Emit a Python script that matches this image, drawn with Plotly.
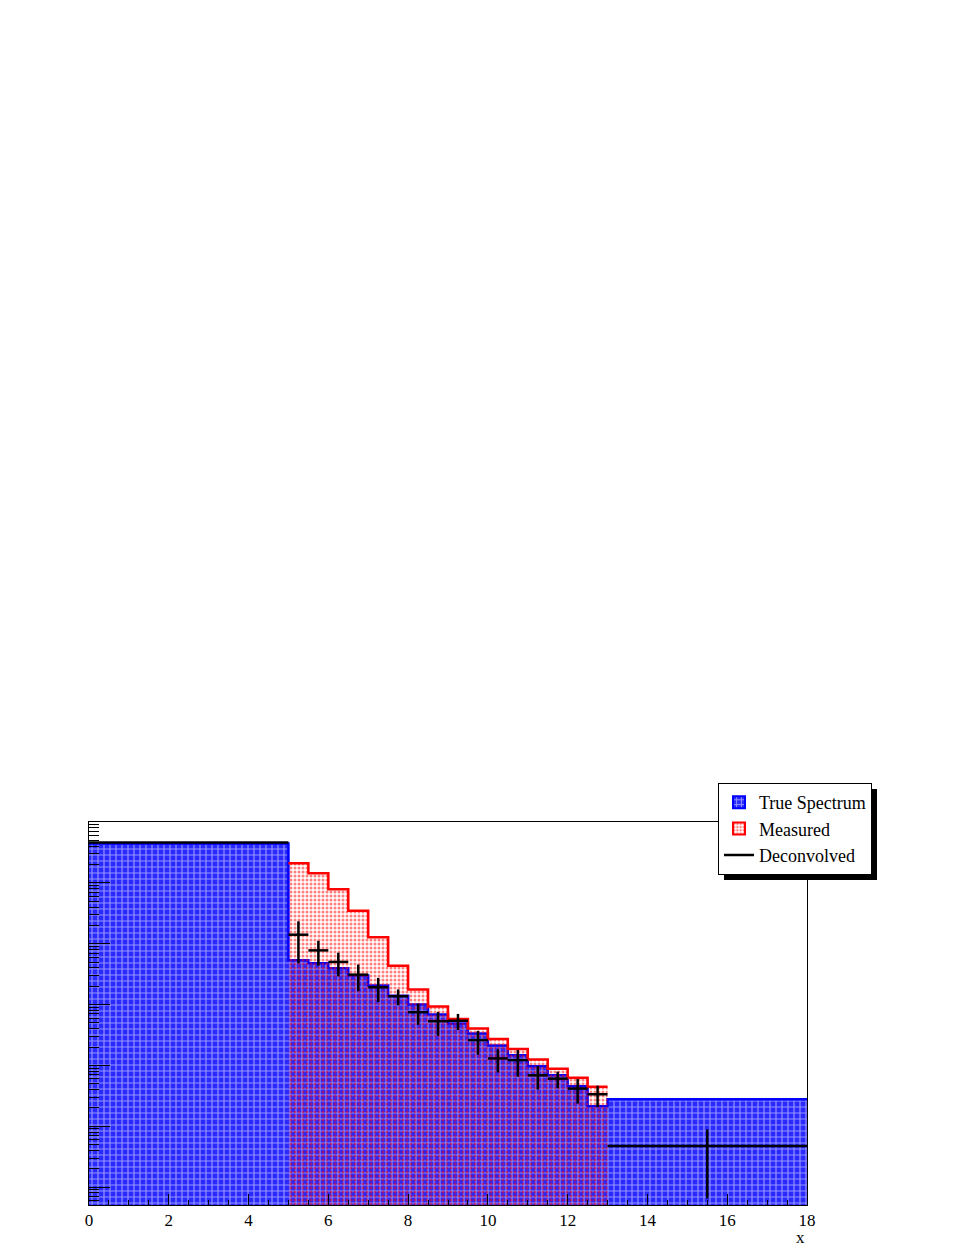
import plotly.graph_objects as go

# bin edges (variable width: one wide bin, 16 narrow bins, one wide bin)
edges = [0, 5, 5.5, 6, 6.5, 7, 7.5, 8, 8.5, 9, 9.5, 10, 10.5, 11, 11.5, 12, 12.5, 13, 18]

true_counts = [4.45e6, 53600, 47900, 39600, 29900, 20500, 14000, 10000, 6860,
               4890, 3350, 2130, 1460, 964, 686, 453, 213, 277]

meas_edges = [5, 5.5, 6, 6.5, 7, 7.5, 8, 8.5, 9, 9.5, 10, 10.5, 11, 11.5, 12, 12.5, 13]
meas_counts = [2.10e6, 1.44e6, 7.88e5, 3.48e5, 1.27e5, 4.35e4, 1.76e4, 9270,
               5780, 4040, 2720, 1860, 1250, 877, 624, 445]

deconv_counts = [4.62e6, 1.405e5, 7.76e4, 5.01e4, 3.10e4, 1.92e4, 1.37e4, 7480,
                 5320, 5410, 2600, 1300, 1220, 686, 605, 415, 335, 47.5]
deconv_err = [2e4, 9.3e4, 3.4e4, 2.1e4, 1.44e4, 8200, 4000, 2850,
              2250, 1600, 1100, 535, 570, 286, 185, 180, 128, 41]

centers = [(edges[i] + edges[i + 1]) / 2 for i in range(len(edges) - 1)]
half_w = [(edges[i + 1] - edges[i]) / 2 for i in range(len(edges) - 1)]

SERIF = "Liberation Serif"
BLUE_PAT = dict(shape="+", fgcolor="white", bgcolor="#2a2aff", size=6, solidity=0.35)
RED_PAT = dict(shape=".", fgcolor="#ff0000", bgcolor="rgba(0,0,0,0)", size=4, solidity=0.45)

fig = go.Figure()

# true spectrum, blue pattern fill
fig.add_trace(go.Scatter(
    x=edges, y=true_counts + [true_counts[-1]],
    mode="lines", line=dict(shape="hv", color="#0000ff", width=2.5),
    fill="tozeroy", fillcolor="rgba(0,0,0,0)", fillpattern=BLUE_PAT,
    showlegend=False,
))

# measured, red dots over whatever is below
fig.add_trace(go.Scatter(
    x=meas_edges, y=meas_counts + [meas_counts[-1]],
    mode="lines", line=dict(shape="hv", color="#ff0000", width=2.5),
    fill="tozeroy", fillcolor="rgba(0,0,0,0)", fillpattern=RED_PAT,
    showlegend=False,
))

# deconvolved, crosses
fig.add_trace(go.Scatter(
    x=centers, y=deconv_counts, mode="markers",
    marker=dict(size=1, color="black"),
    error_x=dict(type="data", array=half_w, color="black", thickness=2.5, width=0),
    error_y=dict(type="data", array=deconv_err, color="black", thickness=2.5, width=0),
    showlegend=False,
))

# legend entries
fig.add_trace(go.Bar(x=[None], y=[None], name="True Spectrum",
                     marker=dict(color="#2a2aff", pattern=BLUE_PAT,
                                 line=dict(color="#0000ff", width=2))))
fig.add_trace(go.Bar(x=[None], y=[None], name="Measured",
                     marker=dict(color="white", pattern=dict(RED_PAT, bgcolor="white"),
                                 line=dict(color="#ff0000", width=2))))
fig.add_trace(go.Scatter(x=[None], y=[None], mode="lines",
                         line=dict(color="black", width=2.5), name="Deconvolved"))

# legend shadow
fig.add_shape(type="rect", xref="paper", yref="paper",
              x0=(724 - 89) / 718, x1=(877 - 89) / 718,
              y0=(1205 - 880) / 383, y1=(1205 - 789) / 383,
              fillcolor="black", line=dict(width=0), layer="above")

fig.add_annotation(text="x", xref="paper", yref="paper", x=1.0, y=(1205 - 1237) / 383,
                   xanchor="right", yanchor="middle", showarrow=False,
                   font=dict(family=SERIF, size=17, color="black"))

fig.update_layout(
    width=969, height=1254,
    margin=dict(l=81, r=170, t=814, b=57),
    paper_bgcolor="white", plot_bgcolor="white",
    font=dict(family=SERIF, size=17, color="black"),
    legend=dict(x=(718 - 89) / 718, y=(1205 - 783) / 383, xanchor="left", yanchor="top",
                bgcolor="white", bordercolor="black", borderwidth=1,
                font=dict(family=SERIF, size=18, color="black"),
                tracegroupgap=0, itemwidth=30),
)
fig.update_xaxes(range=[0, 18], dtick=2, tick0=0, showgrid=False, zeroline=False,
                 showline=True, linecolor="black", linewidth=1, mirror=True,
                 ticks="inside", ticklen=11, tickcolor="black",
                 minor=dict(dtick=0.5, ticks="inside", ticklen=5, tickcolor="black"),
                 tickfont=dict(family=SERIF, size=17))
fig.update_yaxes(type="log", range=[0.705, 7], dtick=1, showgrid=False, zeroline=False,
                 showline=True, linecolor="black", linewidth=1, mirror=True,
                 ticks="inside", ticklen=21, tickcolor="black", showticklabels=False,
                 minor=dict(dtick="D1", ticks="inside", ticklen=10, tickcolor="black"))

fig.write_html("out.html")
